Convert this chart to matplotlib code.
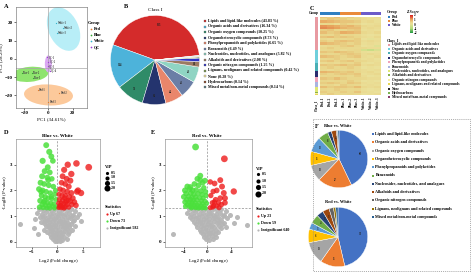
import math
import matplotlib
matplotlib.use("Agg")
import matplotlib.pyplot as plt
from matplotlib.patches import Ellipse, Rectangle
from matplotlib.colors import LinearSegmentedColormap, ListedColormap
from matplotlib.transforms import Affine2D

# ---------------- data ----------------
# A: PCA scores
pca_groups = ["Red", "Blue", "White", "QC"]
pca_pc1 = {"Red": [-9, 9, 0], "Blue": [-22, -14, -13], "White": [6.3, 12, 6.8],
           "QC": [-1, 0, -0.5, 1]}
pca_pc2 = {"Red": [-17, -19, -23.5], "Blue": [-7.5, -7.5, -10.5], "White": [19.7, 16.9, 14.2],
           "QC": [1, -1.5, -4, -6.5]}

# B: class I composition
class_names = ["Lipids and lipid-like molecules", "Organic acids and derivatives",
               "Organic oxygen compounds", "Organoheterocyclic compounds",
               "Phenylpropanoids and polyketides", "Benzenoids",
               "Nucleosides, nucleotides, and analogues", "Alkaloids and derivatives",
               "Organic nitrogen compounds", "Lignans, neolignans and related compounds",
               "None", "Hydrocarbons", "Mixed metal/non-metal compounds"]
class_pct = [43.83, 16.34, 10.25, 8.73, 6.65, 6.49, 5.82, 2.08, 1.25, 0.42, 0.28, 0.14, 0.14]
class_counts = [305, 114, 71, 61, 46, 45, 40, 14, 9, 3, 2, 1, 1]

# C: heatmap z-scores (rows = metabolites, cols = samples)
samples = ["Red-1", "Red-2", "Red-3", "Blue-1", "Blue-2", "Blue-3", "White-1", "White-2", "White-3"]
sample_group = [0, 0, 0, 1, 1, 1, 2, 2, 2]
heat_z = [
    [0.6, 0.5, 0.7, 0.4, 0.5, 0.3, 0.1, 0.0, 0.2],
    [0.4, 0.6, 0.5, 0.5, 0.3, 0.4, 0.2, 0.1, 0.0],
    [0.9, 0.8, 0.7, 0.6, 0.6, 0.5, 0.2, 0.3, 0.1],
    [0.3, 0.4, 0.2, 0.5, 0.4, 0.3, 0.0, 0.1, 0.2],
    [1.1, 1.0, 0.9, 0.7, 0.8, 0.6, 0.3, 0.2, 0.3],
    [1.2, 1.1, 1.0, 0.8, 0.7, 0.7, 0.2, 0.3, 0.2],
    [0.5, 0.6, 0.4, 0.4, 0.5, 0.6, 0.1, 0.2, 0.1],
    [0.7, 0.5, 0.6, 0.9, 0.8, 0.7, 0.3, 0.2, 0.4],
    [0.4, 0.3, 0.5, 0.3, 0.4, 0.3, 0.1, 0.0, 0.1],
    [0.6, 0.7, 0.5, 0.6, 0.5, 0.4, 0.2, 0.1, 0.3],
    [0.3, 0.2, 0.4, 0.3, 0.4, 0.5, 0.0, -0.1, 0.1],
    [0.5, 0.4, 0.6, 0.7, 0.6, 0.5, 0.2, 0.3, 0.2],
    [0.8, 0.7, 0.6, 0.5, 0.4, 0.5, 0.1, 0.2, 0.1],
    [0.2, 0.3, 0.4, 0.5, 0.6, 0.4, 0.0, 0.1, -0.2],
    [0.4, 0.5, 0.3, 0.4, 0.3, 0.3, 0.3, 0.2, 0.2],
    [0.3, 0.4, 0.3, 0.2, 0.3, 0.4, -0.4, -0.6, -0.3],
    [0.6, 0.5, 0.7, 0.6, 0.5, 0.4, 0.1, 0.0, 0.1],
    [0.4, 0.3, 0.4, 0.5, 0.6, 0.5, 0.2, 0.3, 0.2],
    [0.7, 0.6, 0.5, 0.4, 0.5, 0.6, 0.2, 0.1, 0.3],
    [0.3, 0.4, 0.5, 0.3, 0.2, 0.3, 0.1, 0.2, 0.0],
    [0.5, 0.6, 0.4, 0.5, 0.6, 0.4, 0.3, 0.2, 0.1],
    [0.2, 0.3, 0.2, 0.4, 0.3, 0.5, 0.1, 0.0, 0.2],
    [0.6, 0.5, 0.6, 0.7, 0.5, 0.6, 0.2, 0.3, 0.2],
    [0.4, 0.5, 0.3, 0.4, 0.5, 0.3, 0.0, 0.1, 0.0],
    [0.3, 0.2, 0.4, 0.3, 0.4, 0.3, 0.2, 0.1, 0.2],
    [0.8, 0.7, 0.6, 0.5, 0.6, 0.4, 0.2, 0.3, 0.1],
    [0.5, 0.4, 0.5, 0.6, 0.5, 0.6, 0.1, 0.2, 0.3],
    [0.3, 0.4, 0.3, 0.4, 0.3, 0.5, 0.2, 0.0, 0.1],
    [0.6, 0.5, 0.7, 0.5, 0.4, 0.4, 0.3, 0.2, 0.2],
    [0.4, 0.3, 0.4, 0.3, 0.5, 0.3, 0.0, 0.1, 0.0],
    [0.5, 0.6, 0.5, 0.4, 0.6, 0.5, 0.2, 0.1, 0.2],
    [0.3, 0.4, 0.2, 0.5, 0.4, 0.3, 0.1, 0.2, 0.1],
    [0.7, 0.5, 0.6, 0.6, 0.5, 0.7, 0.3, 0.2, 0.3],
    [0.4, 0.3, 0.5, 0.4, 0.3, 0.4, 0.1, 0.0, 0.1],
    [0.5, 0.4, 0.4, 0.5, 0.4, 0.6, 0.2, 0.1, 0.0],
    [0.3, 0.5, 0.3, 0.3, 0.4, 0.3, 0.0, 0.1, 0.2],
]

# D: Blue vs. White volcano
d_up_x = [6.1, 2.0, 3.7, 1.3, 2.7, 1.0, 1.8, 2.5, 0.8, 1.5, 2.2, 4.0, 0.5, 1.1, 1.9, 2.7, 4.6, 3.8,
          0.3, 0.9, 1.5, 2.3, 3.0, 0.4, 1.0, 1.7, 2.5, 0.2, 0.7, 1.2, 1.9, 2.8, 3.6, 0.4, 1.0,
          1.5, 2.2, 0.25, 0.8, 1.3, 0.6, 1.6, 2.1, 3.3, 1.4]
d_up_y = [2.9, 3.0, 3.05, 2.8, 2.64, 2.55, 2.45, 2.38, 2.3, 2.25, 2.15, 2.0, 2.05, 2.0, 1.95, 1.9,
          1.9, 1.95, 1.85, 1.8, 1.8, 1.75, 1.7, 1.65, 1.62, 1.6, 1.58, 1.5, 1.5, 1.48, 1.45, 1.45,
          1.42, 1.38, 1.36, 1.35, 1.35, 1.33, 1.32, 1.31, 1.42, 1.52, 1.62, 1.55, 1.7]
d_up_vip = [2.0, 1.8, 1.9, 1.7, 1.8, 1.6, 1.6, 1.7, 1.5, 1.5, 1.6, 1.7, 1.4, 1.5, 1.5, 1.6, 1.8,
            1.7, 1.3, 1.4, 1.4, 1.5, 1.5, 1.3, 1.3, 1.4, 1.4, 1.2, 1.2, 1.3, 1.3, 1.4, 1.5, 1.1,
            1.2, 1.2, 1.3, 1.1, 1.1, 1.2, 1.2, 1.3, 1.3, 1.5, 1.4]
d_down_x = [-2.2, -1.6, -1.2, -2.9, -0.9, -1.9, -2.5, -1.5, -3.0, -2.0, -1.1, -3.3, -2.6, -1.7,
            -0.8, -3.6, -2.9, -2.2, -1.4, -0.5, -3.1, -2.4, -1.8, -1.1, -0.3, -3.4, -2.7, -2.0,
            -1.3, -0.7, -3.0, -2.3, -1.6, -0.9, -0.2, -3.5, -2.8, -2.1, -1.5, -0.6, -2.5, -1.2,
            -3.2, -1.8, -0.4]
d_down_y = [3.76, 3.5, 3.32, 3.15, 3.15, 2.9, 2.75, 2.7, 2.55, 2.5, 2.45, 2.3, 2.25, 2.2, 2.15,
            2.05, 2.0, 1.95, 1.9, 1.85, 1.8, 1.75, 1.7, 1.68, 1.65, 1.6, 1.55, 1.52, 1.5, 1.48,
            1.45, 1.42, 1.4, 1.38, 1.36, 1.35, 1.33, 1.32, 1.31, 1.31, 1.6, 1.75, 1.95, 2.4, 2.0]
d_down_vip = [1.6, 1.7, 1.6, 1.7, 1.5, 1.6, 1.6, 1.5, 1.6, 1.5, 1.4, 1.6, 1.5, 1.5, 1.4, 1.6,
              1.5, 1.4, 1.4, 1.3, 1.5, 1.4, 1.4, 1.3, 1.2, 1.5, 1.4, 1.3, 1.3, 1.2, 1.4, 1.3,
              1.3, 1.2, 1.1, 1.4, 1.3, 1.2, 1.2, 1.1, 1.4, 1.3, 1.5, 1.5, 1.2]
d_ns_x = [-3.6, -2.8, -2.0, -1.2, -0.5, 0.3, 1.1, 1.9, 2.7, 3.5,
          -4.0, -3.1, -2.3, -1.5, -0.8, 0.0, 0.7, 1.5, 2.3, 3.1, 4.2,
          -3.4, -2.6, -1.8, -1.0, -0.3, 0.4, 1.2, 2.0, 2.8, 3.8,
          -4.4, -2.9, -2.1, -1.4, -0.7, 0.1, 0.9, 1.7, 2.5, 3.3,
          -3.2, -2.4, -1.6, -0.9, -0.2, 0.5, 1.3, 2.1, 3.0, 4.6,
          -7.3, -2.7, -1.9, -1.2, -0.5, 0.2, 1.0, 1.8, 2.6,
          -4.6, -2.2, -1.5, -0.8, -0.1, 0.6, 1.4, 2.2, 3.4,
          -2.6, -1.7, -1.0, -0.4, 0.3, 1.0, 1.8, 2.9,
          -2.0, -1.3, -0.7, 0.0, 0.7, 1.4, 2.3,
          -3.8, -1.5, -0.9, -0.3, 0.4, 1.1, 2.0,
          -1.2, -0.6, 0.0, 0.6, 1.3,
          -0.9, -0.3, 0.3, 0.9, 1.8,
          -0.5, 0.0, 0.5]
d_ns_y = [1.27, 1.22, 1.28, 1.24, 1.29, 1.21, 1.26, 1.23, 1.28, 1.20,
          1.12, 1.08, 1.15, 1.10, 1.13, 1.07, 1.14, 1.09, 1.12, 1.06, 1.10,
          0.98, 1.02, 0.96, 1.00, 0.97, 1.03, 0.99, 0.95, 1.01, 0.97,
          0.88, 0.92, 0.86, 0.90, 0.87, 0.93, 0.89, 0.85, 0.91, 0.86,
          0.78, 0.82, 0.76, 0.80, 0.77, 0.83, 0.79, 0.75, 0.81, 0.80,
          0.68, 0.72, 0.66, 0.70, 0.67, 0.73, 0.69, 0.65, 0.71,
          0.55, 0.62, 0.58, 0.60, 0.57, 0.63, 0.59, 0.56, 0.61,
          0.48, 0.52, 0.46, 0.50, 0.47, 0.53, 0.49, 0.45,
          0.38, 0.42, 0.36, 0.40, 0.37, 0.43, 0.39,
          0.30, 0.32, 0.26, 0.30, 0.27, 0.33, 0.29,
          0.20, 0.22, 0.18, 0.21, 0.19,
          0.12, 0.10, 0.13, 0.09, 0.11,
          0.04, 0.02, 0.05]

# E: Red vs. White volcano
e_up_x = [2.9, 0.5, 1.24, 2.2, 2.5, 1.6, 1.0, 2.8, 4.5, 3.0, 2.2, 1.4, 0.85, 1.9, 3.0, 1.1, 1.6,
          0.5, 0.6, 1.2, 2.4, 0.9, 2.0]
e_up_y = [3.23, 2.33, 2.27, 2.4, 2.15, 2.0, 1.96, 1.9, 1.96, 1.7, 1.7, 1.64, 1.52, 1.52, 1.52,
          1.4, 1.4, 1.33, 1.8, 1.55, 1.45, 1.35, 1.33]
e_up_vip = [2.0, 1.4, 1.5, 1.6, 1.6, 1.5, 1.4, 1.6, 1.8, 1.6, 1.5, 1.4, 1.3, 1.4, 1.5, 1.3, 1.3,
            1.2, 1.3, 1.3, 1.4, 1.2, 1.3]
e_down_x = [-2.0, -1.2, -0.4, -1.7, -0.8, -2.9, -3.4, -2.2, -1.5, -0.6,
            -3.8, -3.0, -2.5, -1.9, -1.1, -0.3, -3.6, -2.8, -2.3, -1.6,
            -0.9, -0.2, -4.0, -3.2, -2.6, -2.0, -1.3, -0.7, -3.5, -2.9,
            -2.4, -1.8, -1.0, -0.4, -3.8, -3.1, -2.6, -2.1, -1.4, -0.8,
            -0.1, -3.4, -2.8, -2.2, -1.7, -1.1, -0.5, -3.7, -3.0, -2.5,
            -1.9, -1.3, -0.6, -2.7, -2.0, -1.5, -0.9, -0.3, -1.2]
e_down_y = [3.69, 2.57, 2.38, 2.45, 2.3, 2.13, 2.15, 2.25, 2.2, 2.1,
            2.0, 2.05, 2.0, 2.02, 1.98, 1.95, 1.88, 1.9, 1.85, 1.87,
            1.84, 1.8, 1.75, 1.76, 1.72, 1.74, 1.71, 1.7, 1.64, 1.65,
            1.62, 1.63, 1.6, 1.58, 1.55, 1.54, 1.52, 1.53, 1.5, 1.49,
            1.5, 1.45, 1.44, 1.43, 1.42, 1.41, 1.4, 1.38, 1.37, 1.36,
            1.35, 1.34, 1.33, 1.32, 1.32, 1.31, 1.31, 1.31, 2.4]
e_down_vip = [2.0, 1.6, 1.5, 1.5, 1.5, 1.6, 1.6, 1.5, 1.5, 1.4,
              1.6, 1.5, 1.5, 1.4, 1.4, 1.3, 1.5, 1.5, 1.4, 1.4,
              1.3, 1.2, 1.5, 1.4, 1.4, 1.3, 1.3, 1.2, 1.4, 1.4,
              1.3, 1.3, 1.2, 1.2, 1.4, 1.3, 1.3, 1.2, 1.2, 1.1,
              1.1, 1.3, 1.3, 1.2, 1.2, 1.1, 1.1, 1.3, 1.2, 1.2,
              1.1, 1.1, 1.0, 1.2, 1.1, 1.1, 1.0, 1.0, 1.5]
e_ns_x = [-3.2, -2.5, -1.8, -1.1, -0.4, 0.3, 1.0, 1.7, 2.4, 3.1,
          -3.5, -2.8, -2.1, -1.4, -0.7, 0.0, 0.7, 1.4, 2.1, 2.9, 3.8,
          -3.0, -2.3, -1.6, -0.9, -0.2, 0.5, 1.2, 1.9, 2.7, 5.0,
          -2.6, -1.9, -1.2, -0.5, 0.2, 0.9, 1.6, 2.4, 3.3,
          -2.3, -1.6, -0.9, -0.2, 0.5, 1.2, 2.0, 2.9, 4.5,
          -2.0, -1.3, -0.6, 0.1, 0.8, 1.6, 2.5, 6.7,
          -1.7, -1.0, -0.3, 0.4, 1.1, 2.0, 3.1,
          -1.3, -0.7, 0.0, 0.7, 1.5, 2.4,
          -1.0, -0.4, 0.3, 1.0, 1.8,
          -5.9, -0.8, -0.2, 0.5, 1.3,
          -0.5, 0.1, 0.8, 1.5,
          -0.3, 0.3, 0.9]
e_ns_y = [1.27, 1.22, 1.28, 1.24, 1.29, 1.21, 1.26, 1.23, 1.28, 1.20,
          1.12, 1.08, 1.15, 1.10, 1.13, 1.07, 1.14, 1.09, 1.12, 1.06, 1.05,
          0.98, 1.02, 0.96, 1.00, 0.97, 1.03, 0.99, 0.95, 1.01, 0.95,
          0.88, 0.92, 0.86, 0.90, 0.87, 0.93, 0.89, 0.85, 0.91,
          0.78, 0.82, 0.76, 0.80, 0.77, 0.83, 0.79, 0.75, 0.73,
          0.68, 0.72, 0.66, 0.70, 0.67, 0.73, 0.69, 0.67,
          0.58, 0.62, 0.56, 0.60, 0.57, 0.63, 0.59,
          0.48, 0.52, 0.46, 0.50, 0.47, 0.53,
          0.38, 0.42, 0.36, 0.40, 0.37,
          0.30, 0.30, 0.27, 0.33, 0.29,
          0.20, 0.18, 0.21, 0.19,
          0.10, 0.08, 0.11]

# F: class I of differential metabolites
f_classes = ["Lipids and lipid-like molecules", "Organic acids and derivatives",
             "Organic oxygen compounds", "Organoheterocyclic compounds",
             "Phenylpropanoids and polyketides", "Benzenoids",
             "Nucleosides, nucleotides, and analogues", "Alkaloids and derivatives",
             "Organic nitrogen compounds", "Lignans, neolignans and related compounds",
             "Mixed metal/non-metal compounds"]
f_blue_white = [60, 27, 13, 11, 12, 8, 3, 4, 1, 0, 1]
f_red_white = [38, 11, 10, 6, 3, 4, 3, 3, 2, 1, 1]

# ---------------- styles ----------------
W, H = 474, 274
plt.rcParams["font.family"] = ["Liberation Serif", "DejaVu Serif"]
plt.rcParams["font.weight"] = "bold"
plt.rcParams["mathtext.fontset"] = "custom"
plt.rcParams["mathtext.rm"] = "Liberation Serif:bold"
plt.rcParams["mathtext.it"] = "Liberation Serif:bold"
plt.rcParams["axes.linewidth"] = 0.4
plt.rcParams["xtick.major.width"] = 0.4
plt.rcParams["ytick.major.width"] = 0.4
plt.rcParams["xtick.major.size"] = 1.5
plt.rcParams["ytick.major.size"] = 1.5
plt.rcParams["xtick.major.pad"] = 1
plt.rcParams["ytick.major.pad"] = 1
plt.rcParams["xtick.labelsize"] = 3.6
plt.rcParams["ytick.labelsize"] = 3.6

fig = plt.figure(figsize=(W / 100, H / 100), dpi=100)


def box(x0, y0, x1, y1):
    # axes from pixel corners (top-left origin)
    return fig.add_axes([x0 / W, 1 - y1 / H, (x1 - x0) / W, (y1 - y0) / H])


ov = fig.add_axes([0, 0, 1, 1], zorder=20)
ov.set_xlim(0, W)
ov.set_ylim(H, 0)
ov.axis("off")
ov.patch.set_alpha(0)


def txt(x, y, s, size=3.2, **kw):
    kw.setdefault("va", "center")
    ov.text(x, y, s, fontsize=size, **kw)


for lab, (x, y) in zip("ABCDEF", [(4, 6), (124, 6), (310, 9), (4, 133), (151, 133), (315, 127)]):
    txt(x, y, lab, size=4.6)

# ---------------- A: PCA ----------------
grp_fill = {"Red": "#fcc99b", "Blue": "#8fe46e", "White": "#b8eef7", "QC": "#dba8f3"}
grp_dot = {"Red": "#e07b2e", "Blue": "#33a833", "White": "#2fb2cc", "QC": "#9a3dd0"}
# ellipse in screen pixels: (major, minor, angle, dx, dy)
grp_shape = {"Red": (49, 21, -3, 0, 0), "Blue": (37, 15, 5, 1, 0),
             "White": (46, 30, -65, 5, -1), "QC": (7, 17, 0, 0, 0)}

axA = box(16, 7, 87, 108)
a_xlim, a_ylim = (-27, 32), (-27, 28.5)
axA.set_xlim(*a_xlim)
axA.set_ylim(*a_ylim)
kx = (87 - 16) / (a_xlim[1] - a_xlim[0])
ky = (108 - 7) / (a_ylim[1] - a_ylim[0])
axA.axvline(0, color="0.65", lw=0.5, zorder=1)
axA.axhline(-5, color="0.65", lw=0.5, zorder=1)
for g in pca_groups:
    xs, ys = pca_pc1[g], pca_pc2[g]
    w, h, ang, dx, dy = grp_shape[g]
    cx, cy = sum(xs) / len(xs), sum(ys) / len(ys)
    tr = Affine2D().translate(dx, dy).scale(1 / kx, 1 / ky).translate(cx, cy) + axA.transData
    axA.add_patch(Ellipse((0, 0), w, h, angle=ang, facecolor=grp_fill[g], edgecolor="none",
                          zorder=0, transform=tr))
    axA.scatter(xs, ys, s=0.8, color=grp_dot[g], zorder=3, linewidths=0)
    for i, (x, y) in enumerate(zip(xs, ys)):
        axA.text(x + 1.2, y, f"{g}-{i + 1}", fontsize=1.9, va="center", color="#444444", zorder=4)
axA.set_xticks([-20, 0, 20])
axA.set_yticks([-20, -10, 0, 10, 20])
axA.set_xlabel("PC1 (34.61%)", fontsize=3.6, labelpad=1)
axA.set_ylabel("PC2 (28.29%)", fontsize=3.6, labelpad=1)
for sp in axA.spines.values():
    sp.set_color("0.4")

txt(88, 23, "Group", size=3.2)
for i, g in enumerate(pca_groups):
    ov.scatter([91], [29 + 6 * i], s=1.5, color=grp_dot[g], linewidths=0)
    txt(93.5, 29 + 6 * i, g, size=3.0)

# ---------------- B: pie ----------------
class_colors = ["#d42b2b", "#4db3da", "#2f8b68", "#24346e", "#e9866b", "#6b7ea6", "#8fd4c3",
                "#9c7a62", "#2e33c4", "#7c9a52", "#f4e7a1", "#8a4a2a", "#5a7a82"]
axB = box(110, 15, 200, 105)
wedges, _ = axB.pie(class_pct, colors=class_colors, startangle=6, counterclock=True,
                    wedgeprops=dict(edgecolor="white", linewidth=0.3))
for wdg, n in zip(wedges[:8], class_counts[:8]):
    a = math.radians((wdg.theta1 + wdg.theta2) / 2)
    r = 0.8 if n > 20 else 0.88
    axB.text(r * math.cos(a), r * math.sin(a), str(n), fontsize=2.2, ha="center", va="center", color="#222222")
axB.set_xlim(-1.01, 1.01)
axB.set_ylim(-1.01, 1.01)
axB.set_aspect("equal")
txt(155, 10, "Class I", size=3.8, ha="center", weight="normal")
for i, (name, pct) in enumerate(zip(class_names, class_pct)):
    y = 21 + 5.5 * i
    ov.scatter([205], [y], s=2.2, marker="s", color=class_colors[i], edgecolors="#555555", linewidths=0.2)
    txt(208.5, y, f"{name} ({pct:.2f} %)", size=2.9)

# ---------------- C: heatmap ----------------
heat_cmap = LinearSegmentedColormap.from_list(
    "zs", [(0.0, "#1a9641"), (0.25, "#b2dc78"), (0.5, "#ebe19a"), (0.6, "#e9d68a"),
           (0.75, "#e8a55d"), (1.0, "#d7191c")])
axC = box(320, 17, 381, 95)
axC.imshow(heat_z, aspect="auto", cmap=heat_cmap, vmin=-2, vmax=2, interpolation="nearest")
axC.set_xticks(range(len(samples)))
axC.set_xticklabels(samples, rotation=90, fontsize=2.6)
axC.tick_params(axis="x", length=0, pad=1)
axC.set_yticks([])
for sp in axC.spines.values():
    sp.set_visible(False)

group_colors = ["#2f7fc1", "#e98a3a", "#6c5bc9"]
axG = box(320, 11.5, 381, 15)
axG.imshow([sample_group], aspect="auto", cmap=ListedColormap(group_colors), vmin=-0.5, vmax=2.5)
axG.axis("off")
txt(318.5, 13.2, "Group", size=2.6, ha="right")

c_colors = ["#e89aa2", "#6fcfdc", "#49afb5", "#2b2c6e", "#f0a2ba", "#aab4e0", "#dfe873",
            "#8ab04a", "#f4efa3", "#e6d652", "#2a2a2a", "#7bb451", "#8a3a6a"]
axK = box(314.5, 17, 317.5, 95)
bottom = 0
for n, c in zip(class_counts, c_colors):
    axK.bar(0, n, bottom=bottom, width=1, color=c, linewidth=0)
    bottom += n
axK.set_ylim(bottom, 0)
axK.set_xlim(-0.5, 0.5)
axK.axis("off")
txt(316, 105, "Class_I", size=2.6, rotation=90, ha="center")

txt(387, 12, "Group", size=2.8)
for i, (g, c) in enumerate(zip(["Red", "Blue", "White"], group_colors)):
    ov.scatter([389], [17 + 4 * i], s=2.0, marker="s", color=c, linewidths=0)
    txt(392, 17 + 4 * i, g, size=2.6)
txt(406, 12, "Z-Score", size=2.8, style="italic")
axCB = box(410, 15, 413, 33)
cb = fig.colorbar(axC.images[0], cax=axCB, ticks=[-2, -1, 0, 1, 2])
cb.ax.tick_params(labelsize=2.4, length=0, pad=0.6)
cb.outline.set_visible(False)
txt(387, 40, "Class_I", size=2.8)
for i, (name, c) in enumerate(zip(class_names, c_colors)):
    y = 44.5 + 4.4 * i
    ov.scatter([389], [y], s=2.0, marker="s", color=c, linewidths=0)
    txt(392, y, name, size=2.6)


# ---------------- D / E: volcano ----------------
def vip_size(v):
    return 4 + 7 * v ** 1.5


def volcano(rect, title, up, down, ns, xlim, xticks, counts, leg_x, vip_y, stat_y, cx):
    ax = box(*rect)
    ax.scatter(ns[0], ns[1], s=13, color="#b5b5b5", linewidths=0, alpha=0.95, zorder=2)
    ax.scatter(down[0], down[1], s=[vip_size(v) for v in down[2]], color="#4be03c",
               linewidths=0, alpha=0.85, zorder=3)
    ax.scatter(up[0], up[1], s=[vip_size(v) for v in up[2]], color="#ee1c1c",
               linewidths=0, alpha=0.8, zorder=3)
    ax.axhline(1.3, color="0.55", lw=0.5, ls=(0, (3, 2)), zorder=1)
    ax.axvline(0, color="0.55", lw=0.5, ls=(0, (3, 2)), zorder=1)
    ax.set_xlim(*xlim)
    ax.set_ylim(-0.2, 4.0)
    ax.set_xticks(xticks)
    ax.set_yticks([0, 1, 2, 3])
    ax.set_xlabel("Log$_2$ (Fold change)", fontsize=3.6, labelpad=2)
    ax.set_ylabel("-Log$_{10}$ (P-value)", fontsize=3.6, labelpad=1)
    for sp in ax.spines.values():
        sp.set_color("0.5")
    txt(cx, 136, title, size=3.6, ha="center")
    txt(leg_x, vip_y[0] - 5.5, "VIP", size=3.2)
    for v, y in zip([0.5, 1.0, 1.5, 2.0], vip_y):
        ov.scatter([leg_x + 2.5], [y], s=vip_size(v) * 0.8, color="black", linewidths=0)
        txt(leg_x + 6, y, f"{v:.1f}", size=2.9)
    txt(leg_x, stat_y[0] - 7, "Statistics", size=3.2)
    for lab, n, c, y in zip(["Up", "Down", "Insignificant"], counts,
                            ["#ee1c1c", "#4be03c", "#b5b5b5"], stat_y):
        ov.scatter([leg_x + 2], [y], s=2.5, color=c, linewidths=0)
        txt(leg_x + 5, y, f"{lab} {n}", size=2.9)


volcano((16, 139, 100, 247), "Blue vs. White",
        (d_up_x, d_up_y, d_up_vip), (d_down_x, d_down_y, d_down_vip), (d_ns_x, d_ns_y),
        (-8.1, 8.3), [-5, 0, 5], [67, 73, 582], 105, [172.5, 177.5, 182.8, 188.3], [214, 221, 228], 57)
volcano((165, 139, 252, 247), "Red vs. White",
        (e_up_x, e_up_y, e_up_vip), (e_down_x, e_down_y, e_down_vip), (e_ns_x, e_ns_y),
        (-7.2, 7.6), [-4, 0, 4], [23, 59, 640], 256, [174, 180.5, 187, 193.5], [216, 223, 230], 207)

# ---------------- F: pies ----------------
ov.add_patch(Rectangle((313, 119), 157, 152, fill=False, edgecolor="0.55", lw=0.5, ls=(0, (1.5, 1.5))))
f_colors = ["#4472c4", "#ed7d31", "#a5a5a5", "#ffc000", "#5b9bd5", "#70ad47", "#264478",
            "#9e480e", "#636363", "#997300", "#255e91"]
for (cx, cy, r), counts, title, ty in [((339, 159, 29), f_blue_white, "Blue vs. White", 126),
                                       ((338, 237, 30), f_red_white, "Red vs. White", 202)]:
    ax = box(cx - r, cy - r, cx + r, cy + r)
    wedges, _ = ax.pie(counts, colors=f_colors, startangle=90, counterclock=False,
                       wedgeprops=dict(edgecolor="white", linewidth=0.3))
    for wdg, n in zip(wedges, counts):
        if n >= 3:
            a = math.radians((wdg.theta1 + wdg.theta2) / 2)
            ax.text(0.75 * math.cos(a), 0.75 * math.sin(a), str(n), fontsize=2.0,
                    ha="center", va="center", color="#222222")
    ax.set_xlim(-1.01, 1.01)
    ax.set_ylim(-1.01, 1.01)
    ax.set_aspect("equal")
    txt(338, ty, title, size=3.2, ha="center")
for i, (name, c) in enumerate(zip(f_classes, f_colors)):
    y = 134 + 8.3 * i
    ov.scatter([373], [y], s=1.8, marker="s", color=c, linewidths=0)
    txt(375.5, y, name, size=3.0)

fig.savefig("out.png", dpi=100)
